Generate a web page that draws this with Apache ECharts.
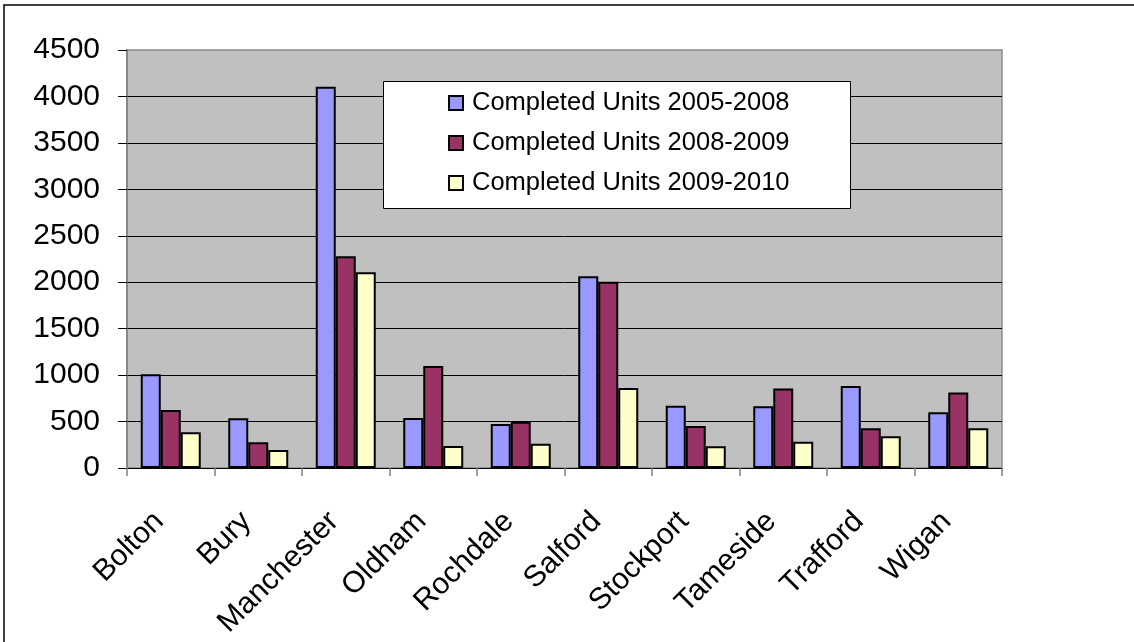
<!DOCTYPE html>
<html>
<head>
<meta charset="utf-8">
<script src="https://cdn.jsdelivr.net/npm/echarts@6/dist/echarts.min.js"></script>
<style>
html,body{margin:0;padding:0;background:#fff;}
#chart{width:1134px;height:642px;}
</style>
</head>
<body>
<div id="chart"></div>
<script>
const categories = ['Bolton','Bury','Manchester','Oldham','Rochdale','Salford','Stockport','Tameside','Trafford','Wigan'];
const seriesNames = ['Completed Units 2005-2008','Completed Units 2008-2009','Completed Units 2009-2010'];
const units2005_2008 = [1010, 535, 4105, 538, 473, 2065, 670, 665, 882, 600];
const units2008_2009 = [625, 276, 2280, 1097, 498, 2004, 452, 857, 427, 814];
const units2009_2010 = [385, 194, 2108, 237, 262, 860, 233, 283, 341, 427];
const yTicks = [0, 500, 1000, 1500, 2000, 2500, 3000, 3500, 4000, 4500];

const colors = ['#9999FF', '#993366', '#FFFFCC'];
const FONT = '"Liberation Sans", Arial, sans-serif';

const chart = echarts.init(document.getElementById('chart'), null, {renderer: 'canvas'});
const dataSets = [units2005_2008, units2008_2009, units2009_2010];

chart.setOption({
  animation: false,
  backgroundColor: '#ffffff',
  textStyle: {fontFamily: FONT},
  graphic: [
    {type: 'polyline', z: 100, shape: {points: [[4, 642], [4, 5], [1134, 5]]}, style: {stroke: '#000', lineWidth: 1.5, fill: null}},
    {type: 'rect', z: 50, shape: {x: 383.5, y: 81.5, width: 467, height: 127}, style: {fill: '#fff', stroke: '#000', lineWidth: 1}}
  ],
  grid: {
    left: 127, right: 132, top: 50, bottom: 174,
    show: true, backgroundColor: '#C0C0C0', borderColor: '#8c8c8c', borderWidth: 1.5
  },
  legend: {
    z: 60,
    data: seriesNames,
    orient: 'vertical',
    left: 448, top: 90,
    padding: 0,
    itemWidth: 14, itemHeight: 14, itemGap: 14,
    icon: 'rect',
    textStyle: {fontSize: 25.5, color: '#000', fontFamily: FONT, lineHeight: 26, padding: [0, 0, 0, 4]}
  },
  xAxis: {
    type: 'category',
    data: categories,
    axisLine: {lineStyle: {color: '#000', width: 1}},
    axisTick: {show: true, length: 8, lineStyle: {color: '#808080', width: 1.5}},
    axisLabel: {interval: 0, rotate: 45, color: '#000', fontFamily: FONT, fontSize: 30, margin: 37,
      formatter: v => v + '\u00a0\u00a0'}
  },
  yAxis: {
    type: 'value',
    min: 0, max: 4500, interval: 500,
    axisLine: {show: true, lineStyle: {color: '#808080', width: 1.5}},
    axisTick: {show: true, length: 9, lineStyle: {color: '#000', width: 1}},
    axisLabel: {fontSize: 30, color: '#000', fontFamily: FONT, margin: 27,
      formatter: v => (yTicks.indexOf(v) >= 0 ? String(v) : '')},
    splitLine: {show: true, showMaxLine: false, lineStyle: {color: '#000', width: 1}}
  },
  series: seriesNames.map((name, i) => ({
    name: name,
    type: 'bar',
    data: dataSets[i],
    barWidth: 20,
    barGap: '0%',
    itemStyle: {color: colors[i], borderColor: '#000', borderWidth: 2}
  }))
});
</script>
</body>
</html>
